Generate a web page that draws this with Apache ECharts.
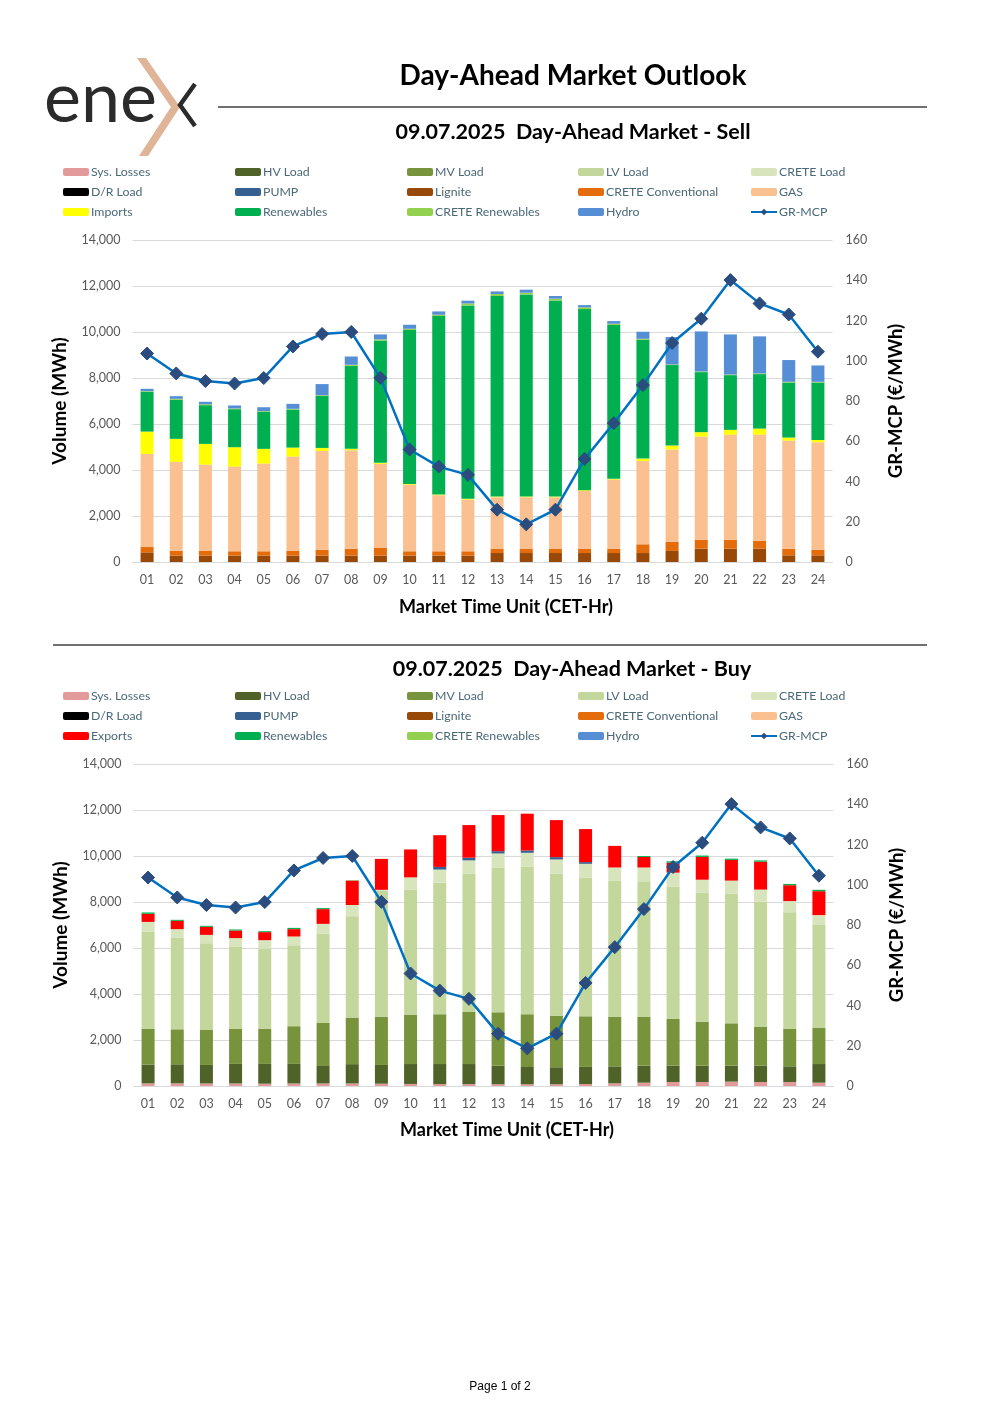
<!DOCTYPE html>
<html>
<head>
<meta charset="utf-8">
<script src="https://cdn.jsdelivr.net/npm/echarts@6/dist/echarts.min.js"></script>
<style>
  html, body { margin: 0; padding: 0; background: #ffffff; }
  #chart { width: 1000px; height: 1415px; }
</style>
</head>
<body>
<div id="chart"></div>
<script>
// ---------- Data ----------
const hours = ['01','02','03','04','05','06','07','08','09','10','11','12','13','14','15','16','17','18','19','20','21','22','23','24'];
const volumeTicks = [0, 2000, 4000, 6000, 8000, 10000, 12000, 14000];
const priceTicks = [0, 20, 40, 60, 80, 100, 120, 140, 160];

// GR-MCP (€/MWh)
const grMcp = [103.6, 93.7, 89.9, 88.7, 91.4, 107.1, 113.3, 114.3, 91.5, 55.9, 47.4, 43.3, 26.0, 18.7, 26.0, 51.2, 69.0, 87.9, 108.8, 120.9, 140.1, 128.5, 123.0, 104.5];

// Sell side (MWh)
const sellLignite = [420,280,280,280,280,280,280,280,280,280,280,280,390,390,390,390,390,390,480,580,580,580,290,290];
const sellCreteConv = [230,215,200,185,185,215,255,300,345,185,185,185,175,175,175,175,175,380,405,390,390,350,290,245];
const sellGas = [4050,3860,3755,3685,3815,4090,4295,4280,3640,2900,2440,2250,2250,2250,2250,2525,3020,3625,4005,4485,4570,4610,4700,4670];
const sellImports = [970,1000,900,840,640,390,130,60,45,30,30,30,30,30,30,30,30,100,175,190,205,260,130,100];
const sellRenewables = [1730,1700,1685,1655,1610,1655,2265,3610,5325,6690,7760,8410,8720,8790,8530,7875,6690,5165,3495,2610,2380,2370,2395,2500];
const sellCreteRenew = [30,40,40,30,30,30,30,45,45,55,55,85,85,75,75,75,55,45,30,30,30,30,30,30];
const sellHydro = [100,115,105,130,170,215,480,360,215,175,145,120,115,130,115,100,115,305,1190,1740,1740,1610,945,710];

// Buy side (MWh)
const buySysLosses = [115,115,110,110,100,110,110,110,100,90,80,80,75,75,75,85,115,145,175,175,190,175,175,145];
const buyHV = [815,830,805,850,860,850,760,840,815,865,875,875,810,750,740,745,740,740,710,710,695,710,680,810];
const buyMV = [1550,1520,1520,1520,1535,1640,1870,2025,2100,2150,2165,2265,2320,2295,2245,2200,2145,2115,2030,1915,1840,1685,1625,1585];
const buyLV = [4235,3975,3775,3570,3480,3520,3875,4410,5485,5425,5720,6020,6280,6410,6165,6035,5930,5900,5760,5610,5630,5440,5075,4460];
const buyCreteLoad = [420,380,360,380,365,380,435,485,30,540,570,570,625,610,625,595,570,600,600,560,575,530,485,430];
const buyPump = [0,0,0,0,0,0,0,0,0,0,115,115,100,100,100,75,0,0,0,0,0,0,0,0];
const buyExports = [350,360,350,330,350,320,640,1060,1345,1215,1380,1420,1570,1600,1610,1435,940,460,440,990,900,1215,690,1040];
const buyRenewables = [60,45,45,45,40,55,45,10,0,0,0,0,0,0,0,0,0,40,55,60,55,55,55,60];

// ---------- Styling ----------
const colors = {
  'Sys. Losses': '#e39a9a',
  'HV Load': '#4f6228',
  'MV Load': '#77933c',
  'LV Load': '#c3d69b',
  'CRETE Load': '#d8e4bc',
  'D/R Load': '#000000',
  'PUMP': '#376092',
  'Lignite': '#984807',
  'CRETE Conventional': '#e46c0a',
  'GAS': '#fac090',
  'Imports': '#ffff00',
  'Exports': '#ff0000',
  'Renewables': '#00b050',
  'CRETE Renewables': '#92d050',
  'Hydro': '#558ed5'
};
const FONT = 'Lato, "DejaVu Sans", sans-serif';
const tickColor = '#595959';
const gridColor = '#d9d9d9';

const sellStack = [
  ['Sys. Losses', []], ['HV Load', []], ['MV Load', []], ['LV Load', []], ['CRETE Load', []],
  ['D/R Load', []], ['PUMP', []],
  ['Lignite', sellLignite], ['CRETE Conventional', sellCreteConv], ['GAS', sellGas],
  ['Imports', sellImports], ['Renewables', sellRenewables], ['CRETE Renewables', sellCreteRenew], ['Hydro', sellHydro]
];
const buyStack = [
  ['Sys. Losses', buySysLosses], ['HV Load', buyHV], ['MV Load', buyMV], ['LV Load', buyLV], ['CRETE Load', buyCreteLoad],
  ['D/R Load', []], ['PUMP', buyPump],
  ['Lignite', []], ['CRETE Conventional', []], ['GAS', []],
  ['Exports', buyExports], ['Renewables', buyRenewables], ['CRETE Renewables', []], ['Hydro', []]
];

function barSeries(list, idx) {
  return list.map(([name, data]) => ({
    name, type: 'bar', stack: 's' + idx, data,
    xAxisIndex: idx, yAxisIndex: idx * 2,
    barWidth: 13,
    itemStyle: { color: colors[name] },
    emphasis: { disabled: true },
    z: 2
  }));
}
function lineSeries(idx) {
  return {
    name: 'GR-MCP', type: 'line', data: grMcp,
    xAxisIndex: idx, yAxisIndex: idx * 2 + 1,
    symbol: 'diamond', symbolSize: 13,
    lineStyle: { color: '#0070c0', width: 2.5 },
    itemStyle: { color: '#2b4c7e', borderColor: '#2b4c7e' },
    z: 5
  };
}

const legendCols = [63, 235, 407, 578, 750];
function legends(top, third) {
  const cols = [
    ['Sys. Losses', 'D/R Load', third],
    ['HV Load', 'PUMP', 'Renewables'],
    ['MV Load', 'Lignite', 'CRETE Renewables'],
    ['LV Load', 'CRETE Conventional', 'Hydro'],
    ['CRETE Load', 'GAS', 'GR-MCP']
  ];
  return cols.map((names, i) => ({
    data: names,
    orient: 'vertical',
    left: legendCols[i], top,
    padding: 0,
    itemWidth: 26, itemHeight: 8, itemGap: 8,
    selectedMode: false,
    textStyle: { color: '#4a6878', fontSize: 12.3, fontFamily: FONT, padding: [0, 0, 0, -3], lineHeight: 12 }
  }));
}

function xAx(idx) {
  return {
    type: 'category', data: hours, gridIndex: idx,
    axisLine: { lineStyle: { color: gridColor } },
    axisTick: { show: false },
    axisLabel: { color: tickColor, fontSize: 12.5, fontFamily: FONT, margin: 11 }
  };
}
function yAxes(idx) {
  return [{
    type: 'value', gridIndex: idx,
    min: volumeTicks[0], max: volumeTicks[volumeTicks.length - 1], interval: volumeTicks[1] - volumeTicks[0],
    axisLine: { show: false }, axisTick: { show: false },
    splitLine: { lineStyle: { color: gridColor } },
    axisLabel: { color: tickColor, fontSize: 12.5, fontFamily: FONT, margin: 12,
      formatter: v => v.toLocaleString('en-US') },
    name: 'Volume (MWh)', nameLocation: 'middle', nameGap: 63, nameRotate: 90,
    nameTextStyle: { color: '#000', fontSize: 19, fontWeight: 'bold', fontFamily: FONT }
  }, {
    type: 'value', gridIndex: idx, position: 'right',
    min: priceTicks[0], max: priceTicks[priceTicks.length - 1], interval: priceTicks[1] - priceTicks[0],
    axisLine: { show: false }, axisTick: { show: false }, splitLine: { show: false },
    axisLabel: { color: tickColor, fontSize: 12.5, fontFamily: FONT, margin: 13 },
    name: 'GR-MCP (€/MWh)', nameLocation: 'middle', nameGap: 54, nameRotate: 90,
    nameTextStyle: { color: '#000', fontSize: 18.5, fontWeight: 'bold', fontFamily: FONT }
  }];
}

const chart = echarts.init(document.getElementById('chart'), null, { renderer: 'canvas' });
chart.setOption({
  backgroundColor: '#ffffff',
  animation: false,
  grid: [
    { left: 132.5, width: 700, top: 240, height: 322 },
    { left: 133.5, width: 700, top: 764, height: 322 }
  ],
  xAxis: [xAx(0), xAx(1)],
  yAxis: [...yAxes(0), ...yAxes(1)],
  legend: [...legends(166, 'Imports'), ...legends(690, 'Exports')],
  series: [
    ...barSeries(sellStack, 0), lineSeries(0),
    ...barSeries(buyStack, 1), lineSeries(1)
  ],
  graphic: [
    // logo
    { type: 'text', left: 44, top: 64, style: { text: 'ene', font: '400 70px Lato, sans-serif', fill: '#2b2b2b' } },
    { type: 'polygon', shape: { points: [[137,58],[146,58],[180,107],[148,156],[139,156],[171,107]] }, style: { fill: '#dfb497' } },
    { type: 'polyline', shape: { points: [[195,84],[180,105],[195,126]] }, style: { stroke: '#2b2b2b', lineWidth: 4.5, fill: null } },
    // header
    { type: 'text', x: 573, y: 76, style: { text: 'Day-Ahead Market Outlook', font: 'bold 28px ' + FONT, fill: '#000', align: 'center', verticalAlign: 'middle' } },
    { type: 'line', shape: { x1: 218, y1: 107, x2: 927, y2: 107 }, style: { stroke: '#404040', lineWidth: 1.3 } },
    { type: 'text', x: 573, y: 132, style: { text: '09.07.2025  Day-Ahead Market - Sell', font: 'bold 21.5px ' + FONT, fill: '#000', align: 'center', verticalAlign: 'middle' } },
    { type: 'text', x: 506, y: 607, style: { text: 'Market Time Unit (CET-Hr)', font: 'bold 18px ' + FONT, fill: '#000', align: 'center', verticalAlign: 'middle' } },
    { type: 'line', shape: { x1: 53, y1: 645, x2: 927, y2: 645 }, style: { stroke: '#404040', lineWidth: 1.3 } },
    { type: 'text', x: 572, y: 669, style: { text: '09.07.2025  Day-Ahead Market - Buy', font: 'bold 21.5px ' + FONT, fill: '#000', align: 'center', verticalAlign: 'middle' } },
    { type: 'text', x: 507, y: 1130, style: { text: 'Market Time Unit (CET-Hr)', font: 'bold 18px ' + FONT, fill: '#000', align: 'center', verticalAlign: 'middle' } },
    { type: 'text', x: 500, y: 1387, style: { text: 'Page 1 of 2', font: '12px "Liberation Sans", Arial, sans-serif', fill: '#000', align: 'center', verticalAlign: 'middle' } }
  ]
});
</script>
</body>
</html>
